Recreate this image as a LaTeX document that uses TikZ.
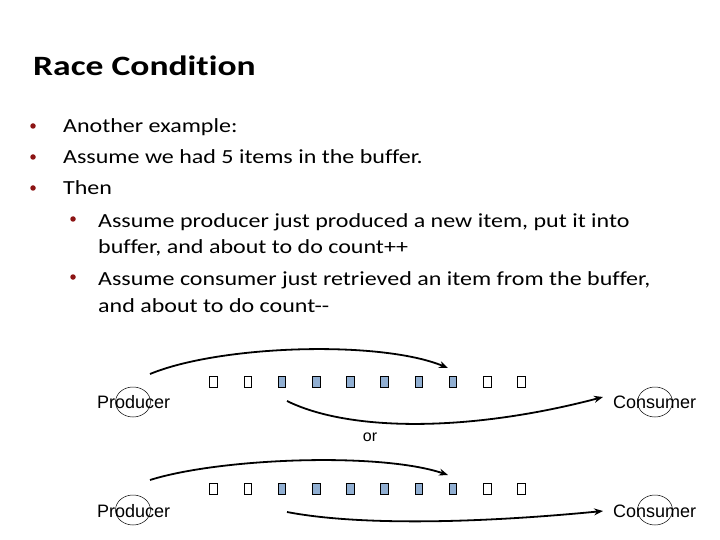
\documentclass[tikz,border=0pt]{standalone}
\usepackage{fontspec}
\setmainfont{Carlito}
\newfontfamily\bodyf{Carlito}[FakeStretch=1.2, Ligatures=NoCommon]
\newfontfamily\titlef{Carlito}[FakeStretch=1.27, Ligatures=NoCommon]
\newfontfamily\arialf{Liberation Sans}
\usetikzlibrary{arrows.meta,shapes.geometric}
\definecolor{bulletred}{RGB}{140,20,20}
\definecolor{itemblue}{RGB}{145,175,210}
\begin{document}
\begin{tikzpicture}[x=1pt,y=-1pt,
 title/.style={anchor=base west, inner sep=0, font=\titlef\bfseries\fontsize{28}{34}\selectfont},
 txt/.style={anchor=base west, inner sep=0, font=\bodyf\fontsize{20}{24}\selectfont},
 lbl/.style={anchor=base west, inner sep=0, font=\arialf\fontsize{18}{21}\selectfont},
 orlbl/.style={anchor=base, inner sep=0, font=\arialf\fontsize{16}{19}\selectfont},
 dot/.style={circle, fill=bulletred, inner sep=0, minimum size=5.5pt},
 slot/.style={draw=black, line width=0.6pt, minimum width=7.5pt, minimum height=11.5pt, inner sep=0},
 full/.style={slot, fill=itemblue},
 ring/.style={draw, ellipse, minimum width=35pt, minimum height=30pt, inner sep=0, line width=0.5pt},
 flow/.style={line width=1.8pt, -{Stealth[length=9pt,width=7pt]}},
]
\useasboundingbox (0,0) rectangle (720,540);
% title
\node[title] (title) at (33,76) {Race Condition};
% bullets
\node[dot] (b1) at (33,126) {};
\node[txt] (t1) at (63,133) {Another example:};
\node[dot] (b2) at (33,157) {};
\node[txt] (t2) at (63,164) {Assume we had 5 items in the buffer.};
\node[dot] (b3) at (33,188) {};
\node[txt] (t3) at (63,195) {Then};
\node[dot] (b4) at (73,219) {};
\node[txt] (t4) at (98,227) {Assume producer just produced a new item, put it into};
\node[txt] (t4b) at (98,254) {buffer, and about to do count++};
\node[dot] (b5) at (73,277) {};
\node[txt] (t5) at (98,285) {Assume consumer just retrieved an item from the buffer,};
\node[txt] (t5b) at (98,312) {and about to do count-{}-};
% buffers
\foreach \i/\s in {1/slot,2/slot,3/full,4/full,5/full,6/full,7/full,8/full,9/slot,10/slot}{
  \node[\s] (a\i) at ({213.5+34.2*(\i-1)},382) {};
  \node[\s] (c\i) at ({213.5+34.2*(\i-1)},489) {};
}
% row 1
\node[lbl] (prod1) at (97,408) {Producer};
\node[ring] (pring1) at (133,402) {};
\node[lbl] (cons1) at (613,408) {Consumer};
\node[ring] (cring1) at (655,402) {};
\node[orlbl] (or) at (370,441) {or};
\coordinate (p1s) at (150,374);
\coordinate (p1e) at (448,368);
\coordinate (c1s) at (287,401);
\coordinate (c1e) at (603,397);
\draw[flow] (p1s) .. controls (220,345) and (380,340) .. (p1e);
\draw[flow] (c1s) .. controls (350,432) and (470,432) .. (c1e);
% row 2
\node[lbl] (prod2) at (97,517) {Producer};
\node[ring] (pring2) at (133,510) {};
\node[lbl] (cons2) at (613,517) {Consumer};
\node[ring] (cring2) at (655,510) {};
\coordinate (p2s) at (150,480);
\coordinate (p2e) at (448,475);
\coordinate (c2s) at (287,512);
\coordinate (c2e) at (603,511);
\draw[flow] (p2s) .. controls (220,458) and (380,452) .. (p2e);
\draw[flow] (c2s) .. controls (360,526) and (480,523) .. (c2e);
\end{tikzpicture}
\end{document}
